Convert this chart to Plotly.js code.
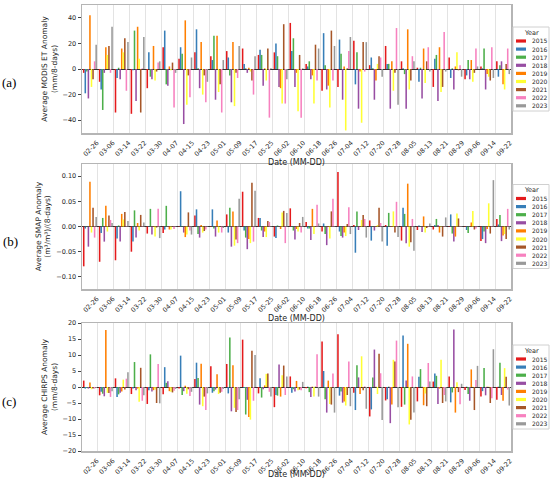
<!DOCTYPE html>
<html>
<head>
<meta charset="utf-8">
<script src="https://cdn.plot.ly/plotly-3.0.1.min.js"></script>
<style>html,body{margin:0;padding:0;background:#fff;}#chart{width:550px;height:479px;}</style>
</head>
<body>
<div id="chart"></div>
<script>
const dates = ["02-26","03-06","03-14","03-22","03-30","04-07","04-15","04-23","05-01","05-09","05-17","05-25","06-02","06-10","06-18","06-26","07-04","07-12","07-20","07-28","08-05","08-13","08-21","08-29","09-06","09-14","09-22"];
const years = ["2015","2016","2017","2018","2019","2020","2021","2022","2023"];
const colors = ["#e41a1c","#377eb8","#4daf4a","#984ea3","#ff7f00","#ffff33","#a65628","#f781bf","#999999"];

// (a) MODIS ET anomaly (mm/8-days)
const et2015 = [-3,-10,-34,-35,-15,17,8,13,10,14,16,11,13,36,4,-17,-14,22,3,18,6,1,-14,9,-8,2,6];
const et2016 = [-19,-16,-7,-1,13,30,17,31,7,9,4,15,20,14,2,28,23,-12,9,4,0.5,-10,8,-7,-5,0.5,-6];
const et2017 = [-2,-32,1,30,-6,-12,12,0.5,26,-5,0.5,11,10,24,6,3,12,13,0.5,4,-4,1,11,0.5,7,16,3];
const et2018 = [-23,-3,-8,-25,-8,-13,-43,-15,-24,-26,-3,-13,-14,-14,-8,-16,-24,-31,-24,-31,-31,-23,-25,-16,-8,-16,6];
const et2019 = [42,17,16,33,18,2,38,21,26,21,1,0.5,-15,-3,-5,-13,2,-2,-9,6,31,16,17,2,7,-4,-12];
const et2020 = [-14,11,13,8,-9,-1,-28,-20,-18,-29,-2,-9,-27,-33,-27,-30,-48,-42,4,-17,-16,-11,-18,13,-10,-6,-16];
const et2021 = [-8,18,24,-34,-2,5,-5,-5,-12,-3,-9,16,35,11,19,30,0.5,21,10,-3,-9,6,-14,-1,-3,-9,4];
const et2022 = [6,-3,-17,0.5,5,-30,-22,-26,-34,-7,-20,-38,-27,-38,-9,-9,14,-2,9,32,10,17,29,3,16,17,16];
const et2023 = [19,33,21,25,6,-3,9,-10,7,18,10,0.5,-8,0.5,16,18,25,21,-6,-28,6,-2,-2,-6,2,-7,-4];

// (b) SMAP soil moisture anomaly ((m3/m3)/(8-days))
const sm2015 = [-0.079,-0.070,-0.067,-0.050,-0.014,-0.013,0.001,0.022,0.001,0.024,0.069,0.017,-0.020,0.036,0.009,-0.010,0.108,0.003,0.012,0.003,-0.028,-0.007,-0.006,0.001,0.001,-0.029,0.015];
const sm2016 = [-0.004,-0.013,-0.024,-0.030,0.001,-0.006,0.070,0.034,0.034,-0.012,-0.008,0.017,-0.023,0.001,-0.004,0.006,-0.010,-0.052,-0.028,-0.038,0.037,0.002,0.003,0.024,-0.007,-0.025,0.004];
const sm2017 = [-0.001,0.017,0.002,0.032,0.035,0.041,-0.001,-0.015,-0.004,0.037,-0.022,-0.008,0.002,-0.008,-0.004,-0.015,-0.019,0.030,0.001,0.027,0.025,0.001,0.015,-0.014,-0.013,-0.010,0.023];
const sm2018 = [-0.040,-0.030,-0.030,-0.022,-0.016,-0.001,-0.012,-0.022,-0.020,-0.040,-0.045,-0.021,-0.001,-0.026,-0.027,-0.037,-0.022,-0.007,-0.008,0.001,-0.033,-0.011,0.003,-0.030,0.001,-0.033,-0.029];
const sm2019 = [0.089,0.041,0.025,0.007,0.001,-0.006,-0.021,0.003,0.012,0.030,-0.025,-0.010,-0.005,-0.005,0.035,0.001,-0.012,0.001,0.001,0.001,0.085,0.020,-0.012,-0.020,0.008,-0.005,-0.018];
const sm2020 = [-0.012,-0.010,0.014,-0.008,-0.020,-0.006,-0.016,-0.012,-0.012,-0.038,-0.033,-0.021,0.028,-0.010,-0.015,-0.024,-0.019,0.013,0.003,0.030,-0.040,-0.012,0.001,0.026,0.031,0.046,-0.015];
const sm2021 = [0.037,0.022,0.029,0.023,-0.002,-0.001,0.028,-0.009,-0.001,-0.026,0.087,0.011,0.031,0.007,0.001,0.030,0.005,0.023,0.037,-0.012,-0.031,-0.003,-0.020,0.016,-0.006,-0.014,-0.025];
const sm2022 = [-0.022,0.013,0.001,0.001,0.035,-0.005,-0.008,-0.006,-0.012,-0.033,-0.030,0.009,-0.033,-0.012,0.043,0.055,0.038,0.015,0.007,0.049,0.015,0.001,0.001,0.001,-0.004,0.001,0.035];
const sm2023 = [0.019,0.007,0.011,0.008,-0.023,0.001,-0.016,0.001,-0.003,0.055,0.071,0.001,0.027,0.019,0.006,0.001,-0.015,-0.022,-0.030,-0.021,-0.048,0.006,0.018,0.001,0.001,0.092,-0.006];

// (c) CHIRPS precipitation anomaly (mm/8-days)
const pr2015 = [2,-2.6,2.7,-2.2,-5.3,-2.3,-0.5,2.5,6.5,7.2,14.8,-2,-6.3,3.3,-0.4,14.2,16.5,-1.8,-9.2,-4.2,-6.2,-4.5,1.7,3.3,-0.9,-3,-4];
const pr2016 = [-0.5,-1.5,-3.1,-0.5,-1,6.2,9.8,7.6,-1.8,-2,-0.3,2.7,-2.5,-1.8,0.1,5,-2.7,-7.2,-7,-3.8,16.1,3.2,4.2,-4.8,0.1,-1.3,0.1];
const pr2017 = [-0.3,-2.1,-2.3,7.8,10.2,1.3,-2.5,2.8,-1.3,15.5,-8.6,-3.3,-2.7,-0.7,-1.6,-3.8,-1.4,6.8,3,0.1,-5.5,5.6,3.5,-1.7,-2.2,5.9,7.6];
const pr2018 = [-0.5,-2.9,-1.8,-1,-1.4,1.8,-1.3,-5.5,-0.8,-7.6,-4,-0.7,7,-1.4,-3.1,-8,-4.9,3,11.7,-11.3,2,0.1,-5.3,18,-4.3,-2.6,-2.5];
const pr2019 = [1.4,17.8,-1.4,-0.5,-1,-1.3,0.4,7.3,4.0,6.8,-9.4,0.5,-3,1.9,0.1,2,-4.5,-2.2,0.1,-5.5,13.5,-5.7,-0.5,-8,5.5,0.1,-4.3];
const pr2020 = [-0.7,-1.8,2.3,-4.6,-0.8,-1.5,-2.1,-6,-2.2,-6.5,-10.2,4.1,3.7,-1,-3,-5.3,-5.8,9.6,-2.2,8.5,-11.7,-2,8.5,1.5,0.1,0.1,5.9];
const pr2021 = [-0.5,-1.9,-0.8,6,-5,-1.7,-0.7,-3,-1.8,-7.8,11.3,4.2,6.7,-0.8,0.1,-5.5,-2.5,-1,10.4,8,-10.2,-6,-5,-1.6,-7.2,-5,3.2];
const pr2022 = [-0.5,-3.1,2.6,-4.3,7.2,-1.2,-2.8,-7.2,-1.5,-7.2,-4.3,-1.5,-2.5,-1,10.2,4.2,8,0.2,4.3,14.5,3.3,7.5,-2.5,-5.4,2.2,-3.5,-0.8];
const pr2023 = [-0.3,-1.3,4.6,-2.6,-5.1,-0.6,-1.5,-2,-0.6,-3.8,10,-3,3.3,1.6,-3,-8,-6,-6.8,-10.3,-6.3,-8,1.7,-4.5,1,6.6,11.8,-5.8];

const panelLabels = ["(a)","(b)","(c)"];
const yTitles = ["Average MODIS ET Anomaly<br>(mm/8-days)","Average SMAP Anomaly<br>(m³/m³)/(8-days)","Average CHIRPS Anomaly<br>(mm/8-days)"];
const xTitle = "Date (MM-DD)";
const legendTitle = "Year";

const panels = [
  [et2015,et2016,et2017,et2018,et2019,et2020,et2021,et2022,et2023],
  [sm2015,sm2016,sm2017,sm2018,sm2019,sm2020,sm2021,sm2022,sm2023],
  [pr2015,pr2016,pr2017,pr2018,pr2019,pr2020,pr2021,pr2022,pr2023]
];

// layout geometry (pixels in a 550x479 figure)
const W = 550, H = 479;
const plotL = 82, plotR = 511;
const panelPx = [[5,133],[164,289],[323,451]];
const yRanges = [[-50,50],[-0.124,0.124],[-20,20]];
const yTickVals = [[-40,-20,0,20,40],[-0.10,-0.05,0,0.05,0.10],[-20,-15,-10,-5,0,5,10,15,20]];
const yTickFmt = ["d",".2f","d"];
const labelPx = [[9,83],[10,241],[9,401]];

const px = x => x / W;
const py = y => 1 - y / H;
const font = "DejaVu Sans, sans-serif";

const traces = [];
panels.forEach((series, p) => {
  const ax = p === 0 ? "" : String(p + 1);
  series.forEach((vals, j) => {
    traces.push({
      type: "bar", x: dates, y: vals, name: years[j],
      xaxis: "x" + ax, yaxis: "y" + ax,
      marker: {color: colors[j], line: {width: 0}},
      showlegend: false, hoverinfo: "x+y+name"
    });
  });
});

const layout = {
  width: W, height: H,
  margin: {l: 0, r: 0, t: 0, b: 0},
  paper_bgcolor: "#fff", plot_bgcolor: "#fff",
  barmode: "group", bargap: 0.12, bargroupgap: 0,
  font: {family: font, color: "#262626"},
  showlegend: false,
  shapes: [], annotations: []
};

panels.forEach((series, p) => {
  const ax = p === 0 ? "" : String(p + 1);
  const [t, b] = panelPx[p];
  layout["xaxis" + ax] = {
    domain: [px(plotL), px(plotR)], anchor: "y" + ax, type: "category",
    tickson: "boundaries", showgrid: true, gridcolor: "#e3e3e3", gridwidth: 1,
    ticks: "", tickangle: -45, tickfont: {size: 6.5, color: "#262626"},
    ticklabelshift: 7, ticklabelstandoff: 2,
    showline: true, mirror: true, linecolor: "#b5b5b5", linewidth: 1.5,
    zeroline: false,
    title: {text: xTitle, font: {size: 8, color: "#262626"}, standoff: 2}
  };
  layout["yaxis" + ax] = {
    domain: [py(b), py(t)], anchor: "x" + ax, range: yRanges[p],
    tickmode: "array", tickvals: yTickVals[p], tickformat: yTickFmt[p],
    ticks: "outside", ticklen: 3, tickcolor: "#444", tickfont: {size: 6.5, color: "#262626"},
    showgrid: false, zeroline: true, zerolinecolor: "#333", zerolinewidth: 1,
    showline: true, mirror: true, linecolor: "#b5b5b5", linewidth: 1.5,
    title: {text: yTitles[p], font: {size: 7.5, color: "#262626"}, standoff: 4}
  };
  // panel label
  layout.annotations.push({
    xref: "paper", yref: "paper", x: px(labelPx[p][0]), y: py(labelPx[p][1]),
    text: panelLabels[p], showarrow: false, xanchor: "center", yanchor: "middle",
    font: {family: "Liberation Serif, serif", size: 13, color: "#000"}
  });
  // legend (drawn as a boxed key centred on the panel)
  const yc = (t + b) / 2;
  layout.shapes.push({
    type: "rect", xref: "paper", yref: "paper",
    x0: px(513), x1: px(549), y0: py(yc + 42), y1: py(yc - 42),
    line: {color: "#d0d0d0", width: 1}, fillcolor: "rgba(255,255,255,0.9)", layer: "above"
  });
  layout.annotations.push({
    xref: "paper", yref: "paper", x: px(531), y: py(yc - 36),
    text: legendTitle, showarrow: false, xanchor: "center", yanchor: "middle",
    font: {size: 6.5, color: "#262626"}
  });
  years.forEach((yr, j) => {
    const yy = yc - 28 + 8.1 * j;
    layout.shapes.push({
      type: "rect", xref: "paper", yref: "paper",
      x0: px(516), x1: px(526), y0: py(yy + 1.6), y1: py(yy - 1.6),
      line: {width: 0}, fillcolor: colors[j], layer: "above"
    });
    layout.annotations.push({
      xref: "paper", yref: "paper", x: px(530), y: py(yy),
      text: yr, showarrow: false, xanchor: "left", yanchor: "middle",
      font: {size: 6, color: "#262626"}
    });
  });
});

Plotly.newPlot("chart", traces, layout, {staticPlot: true, displayModeBar: false});
</script>
</body>
</html>
